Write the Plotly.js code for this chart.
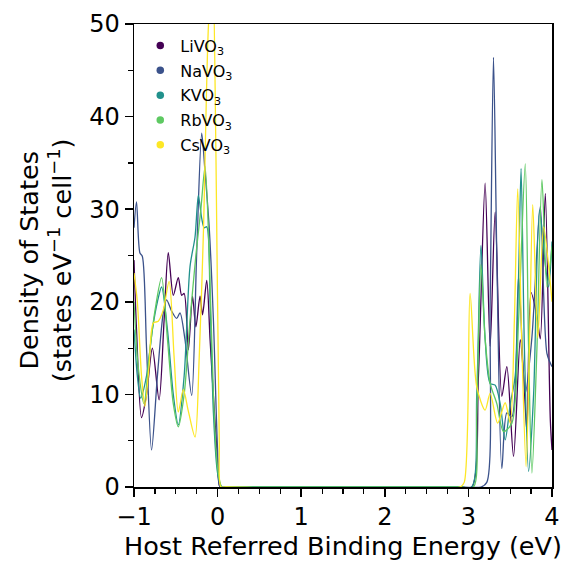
<!DOCTYPE html>
<html>
<head>
<meta charset="utf-8">
<script src="https://cdn.plot.ly/plotly-3.0.1.min.js"></script>
<style>html,body{margin:0;padding:0;background:#fff;}#chart{width:568px;height:566px;}</style>
</head>
<body>
<div id="chart"></div>
<script>
const names = ["LiVO<sub>3</sub>", "NaVO<sub>3</sub>", "KVO<sub>3</sub>", "RbVO<sub>3</sub>", "CsVO<sub>3</sub>"];
const colors = ["#440154", "#3b528b", "#21918c", "#5ec962", "#fde725"];
const yTitle = 'Density of States<br>(states eV<sup>\u22121</sup> cell<sup>\u22121</sup>)';
const xTitle = 'Host Referred Binding Energy (eV)';

const liX = [-1, -0.97, -0.91, -0.85, -0.78, -0.70, -0.64, -0.59, -0.53, -0.47, -0.43, -0.40, -0.35, -0.30, -0.26, -0.21, -0.18, -0.13, -0.09, -0.05, 0.0, 0.03, 0.1, 2.9, 3.04, 3.12, 3.20, 3.26, 3.32, 3.40, 3.46, 3.54, 3.62, 3.66, 3.70, 3.75, 3.82, 3.86, 3.92, 3.98, 4.0];
const liY = [24.5, 17, 7.5, 10, 15, 9.4, 18, 25.3, 20.7, 22.6, 20.7, 20.9, 14.8, 20.6, 17.3, 20.6, 18.6, 22.3, 15.9, 9.8, 2.9, 0, 0, 0, 0, 12, 32.8, 15.2, 29.7, 9.8, 13.0, 3.3, 15.9, 12, 6, 21, 18.4, 16, 31.7, 7.2, 4];

const naX = [-1, -0.97, -0.93, -0.90, -0.85, -0.79, -0.72, -0.65, -0.61, -0.55, -0.49, -0.45, -0.39, -0.31, -0.25, -0.19, -0.15, -0.10, -0.05, 0.0, 0.03, 0.1, 2.9, 3.15, 3.22, 3.26, 3.30, 3.34, 3.40, 3.46, 3.52, 3.60, 3.68, 3.76, 3.86, 3.94, 4.0];
const naY = [28, 30.8, 25.3, 24.9, 15, 4.0, 12, 18.8, 20.2, 19, 18.2, 18.8, 15.9, 9.9, 25.3, 38.2, 34, 28, 18, 4, 0, 0, 0, 0, 0.5, 20, 46.4, 25, 2.0, 8, 7.6, 22.7, 10.1, 16.2, 30.3, 14.4, 13];

const kX = [-1, -0.96, -0.92, -0.85, -0.78, -0.72, -0.67, -0.60, -0.53, -0.47, -0.40, -0.33, -0.27, -0.23, -0.19, -0.16, -0.13, -0.09, -0.05, 0.0, 0.05, 0.1, 2.9, 3.04, 3.10, 3.15, 3.20, 3.26, 3.32, 3.38, 3.44, 3.50, 3.56, 3.60, 3.63, 3.67, 3.72, 3.78, 3.85, 3.92, 3.96, 4.0];
const kY = [17, 12, 9.6, 12, 17, 20, 21.6, 17, 10, 6.7, 12, 23.8, 27, 31.5, 29, 28, 28.1, 20, 8, 1.5, 0, 0, 0, 0, 10, 26.1, 16, 11.2, 11, 9, 5.1, 8.9, 12, 22.7, 34.4, 15, 1.7, 10, 29.9, 24, 21.6, 26.5];

const rbX = [-1, -0.95, -0.88, -0.82, -0.75, -0.67, -0.60, -0.53, -0.47, -0.40, -0.33, -0.26, -0.20, -0.15, -0.10, -0.05, 0.0, 0.05, 0.1, 2.9, 3.06, 3.10, 3.15, 3.20, 3.26, 3.34, 3.42, 3.52, 3.60, 3.68, 3.72, 3.76, 3.82, 3.88, 3.94, 4.0];
const rbY = [20, 13, 9, 14, 19, 22.6, 16, 9, 6.5, 10, 18, 25, 30, 34.6, 25, 10, 2, 0, 0, 0, 0, 8, 24.0, 16, 11.2, 9, 6, 6.9, 18, 34.9, 15, 1.5, 15, 33.2, 21.6, 26];

const csX = [-1, -0.96, -0.91, -0.87, -0.82, -0.77, -0.71, -0.65, -0.58, -0.52, -0.47, -0.41, -0.35, -0.27, -0.22, -0.17, -0.11, -0.06, -0.02, 0.02, 0.04, 0.1, 2.9, 2.95, 3.02, 3.10, 3.20, 3.26, 3.35, 3.44, 3.50, 3.55, 3.59, 3.64, 3.69, 3.73, 3.77, 3.83, 3.90, 3.98, 4.0];
const csY = [23.1, 20, 12, 8.7, 13, 17.7, 17.9, 19.1, 22.2, 14, 8.1, 10.5, 8.2, 5.4, 14, 27.4, 49.7, 56, 36, 5, 0, 0, 0, 0.5, 20.9, 10.8, 8.3, 10.1, 6.9, 9.1, 6.9, 18, 32.2, 15, 2.2, 15, 30.5, 16.1, 28.1, 22, 20];

const seriesX = [liX, naX, kX, rbX, csX];
const seriesY = [liY, naY, kY, rbY, csY];

const traces = [];
for (let i = 0; i < 5; i++) {
  traces.push({
    x: seriesX[i], y: seriesY[i], type: 'scatter', mode: 'lines',
    line: {color: colors[i], width: 1.3, shape: 'spline', smoothing: 0.8},
    showlegend: false, hoverinfo: 'skip'
  });
}
for (let i = 0; i < 5; i++) {
  traces.push({
    x: [null], y: [null], type: 'scatter', mode: 'markers',
    marker: {color: colors[i], size: 7.5},
    name: names[i], legendgroup: 'g' + i, showlegend: true
  });
}

const axisCommon = {
  showgrid: false, zeroline: false, showline: true, linecolor: '#000', linewidth: 1.5,
  mirror: true, ticks: 'outside', ticklen: 8, tickwidth: 1.5, tickcolor: '#000',
  tickfont: {family: 'DejaVu Sans', size: 24, color: '#000'}
};

const layout = {
  width: 568, height: 566,
  margin: {l: 134, r: 16, t: 24, b: 79},
  paper_bgcolor: '#fff', plot_bgcolor: '#fff',
  font: {family: 'DejaVu Sans', color: '#000'},
  xaxis: Object.assign({}, axisCommon, {
    range: [-1, 4], tickvals: [-1, 0, 1, 2, 3, 4], ticktext: ['\u22121', '0', '1', '2', '3', '4'],
    minor: {dtick: 0.25, ticks: 'outside', ticklen: 5, tickwidth: 1.2, tickcolor: '#000'},
    title: {text: xTitle, font: {family: 'DejaVu Sans', size: 25.5, color: '#000'}, standoff: 6}
  }),
  yaxis: Object.assign({}, axisCommon, {
    range: [0, 50], dtick: 10,
    minor: {dtick: 5, ticks: 'outside', ticklen: 5, tickwidth: 1.2, tickcolor: '#000'}
  }),
  annotations: [{
    text: yTitle, xref: 'paper', yref: 'paper', x: 0, y: 0.49,
    xanchor: 'center', yanchor: 'middle', xshift: -89, textangle: -90, showarrow: false,
    font: {family: 'DejaVu Sans', size: 25.5, color: '#000'}
  }],
  legend: {
    x: 0.015, y: 0.99, xanchor: 'left', yanchor: 'top',
    bgcolor: 'rgba(0,0,0,0)', borderwidth: 0,
    font: {family: 'DejaVu Sans', size: 16, color: '#000'},
    tracegroupgap: 1, itemwidth: 30
  },
  showlegend: true
};

Plotly.newPlot('chart', traces, layout, {displayModeBar: false, staticPlot: true});
</script>
</body>
</html>
